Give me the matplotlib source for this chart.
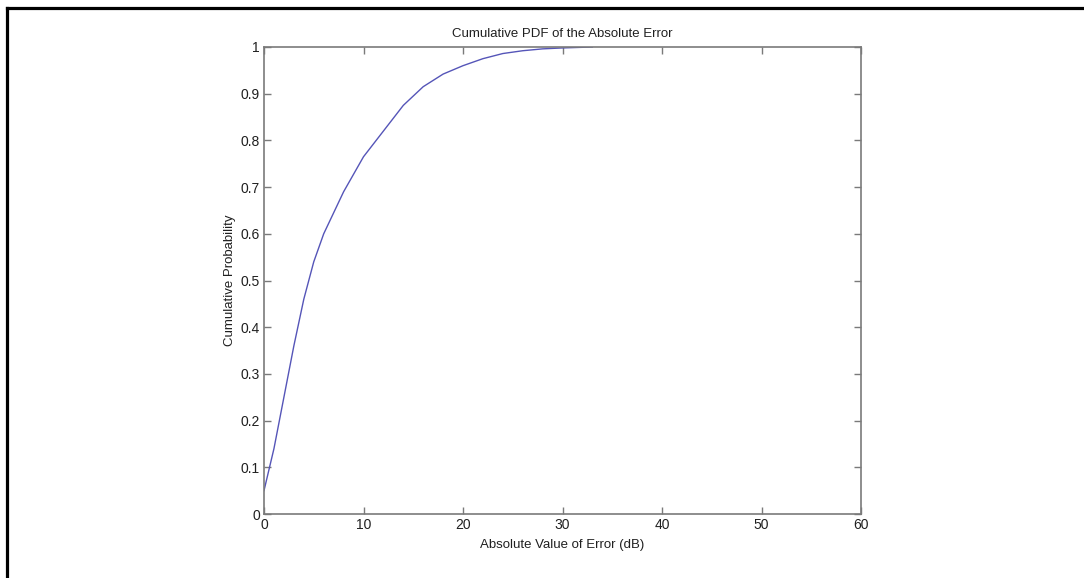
import matplotlib
matplotlib.use("Agg")
import matplotlib.pyplot as plt
from matplotlib.lines import Line2D

plt.rcParams['font.family'] = ['Liberation Sans', 'DejaVu Sans']

error_db = [0, 1, 2, 3, 4, 5, 6, 8, 10, 12, 14, 16, 18, 20, 22, 24, 26, 28, 30, 33]
cum_prob = [0.05, 0.14, 0.25, 0.36, 0.46, 0.54, 0.60, 0.69, 0.765, 0.82, 0.875,
            0.915, 0.942, 0.96, 0.975, 0.986, 0.992, 0.996, 0.998, 1.0]
x_ticks = [0, 10, 20, 30, 40, 50, 60]
y_ticks = [0, 0.1, 0.2, 0.3, 0.4, 0.5, 0.6, 0.7, 0.8, 0.9, 1]
y_tick_labels = ['0', '0.1', '0.2', '0.3', '0.4', '0.5', '0.6', '0.7', '0.8', '0.9', '1']

W, H = 1084, 578
fig = plt.figure(figsize=(W / 100, H / 100), dpi=100)
fig.patch.set_facecolor('white')

l, r, t, b = 264, 861, 47, 514
ax = fig.add_axes([l / W, 1 - b / H, (r - l) / W, (b - t) / H])
ax.plot(error_db, cum_prob, color='#5555b8', linewidth=1.0)
ax.set_xlim(0, 60)
ax.set_ylim(0, 1)
ax.set_xticks(x_ticks)
ax.set_xticklabels([str(v) for v in x_ticks])
ax.set_yticks(y_ticks)
ax.set_yticklabels(y_tick_labels)

axis_col = '#7a7a7a'
text_col = '#202020'
for s in ax.spines.values():
    s.set_color(axis_col)
    s.set_linewidth(1.2)
ax.tick_params(direction='in', length=5, width=1.0, color=axis_col,
               labelsize=10, labelcolor=text_col, top=True, right=True, pad=3)
ax.set_title('Cumulative PDF of the Absolute Error', fontsize=9.5, color=text_col, pad=7)
ax.set_xlabel('Absolute Value of Error (dB)', fontsize=9.5, color=text_col, labelpad=5)
ax.set_ylabel('Cumulative Probability', fontsize=9.5, color=text_col, labelpad=3)

# outer black frame (left and top edges)
lw = 2.3
fig.add_artist(Line2D([6.5 / W, 6.5 / W], [0, 1 - 7.5 / H], transform=fig.transFigure,
                      color='black', linewidth=lw, solid_capstyle='projecting'))
fig.add_artist(Line2D([6.5 / W, 1], [1 - 7.5 / H, 1 - 7.5 / H], transform=fig.transFigure,
                      color='black', linewidth=lw, solid_capstyle='projecting'))

fig.savefig('out.png', dpi=100, facecolor='white')
